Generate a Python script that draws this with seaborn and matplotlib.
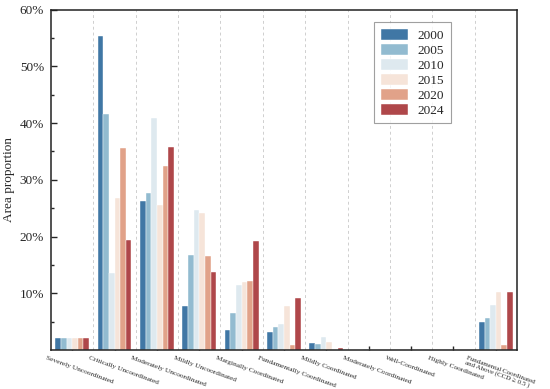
import matplotlib
matplotlib.use("Agg")
import matplotlib.pyplot as plt
import matplotlib.transforms as mtransforms
from matplotlib.ticker import FixedLocator, FuncFormatter
import seaborn as sns
import pandas as pd

categories = [
    "Severely Uncoordinated",
    "Critically Uncoordinated",
    "Moderately Uncoordinated",
    "Mildly Uncoordinated",
    "Marginally Coordinated",
    "Fundamentally Coordinated",
    "Mildly Coordinated",
    "Moderately Coordinated",
    "Well-Coordinated",
    "Highly Coordinated",
    "Fundamental Coordinated\nand Above (CCD \u2265 0.5 )",
]
years = ["2000", "2005", "2010", "2015", "2020", "2024"]

v2000 = [2.2, 55.4, 26.3, 7.8, 3.6, 3.2, 1.2, 0.0, 0.0, 0.0, 5.0]
v2005 = [2.2, 41.6, 27.6, 16.7, 6.5, 4.0, 1.1, 0.0, 0.0, 0.0, 5.7]
v2010 = [2.2, 13.5, 40.9, 24.6, 11.5, 4.6, 2.3, 0.2, 0.0, 0.0, 7.9]
v2015 = [2.2, 26.7, 25.6, 24.2, 12.0, 7.8, 1.4, 0.0, 0.0, 0.0, 10.3]
v2020 = [2.2, 35.6, 32.5, 16.6, 12.2, 0.8, 0.0, 0.0, 0.0, 0.0, 0.8]
v2024 = [2.2, 19.3, 35.8, 13.7, 19.2, 9.1, 0.3, 0.0, 0.0, 0.0, 10.3]

series = [v2000, v2005, v2010, v2015, v2020, v2024]
rows = []
for y, vals in zip(years, series):
    for c, v in zip(categories, vals):
        rows.append({"category": c, "year": y, "value": v})
df = pd.DataFrame(rows)

sns.set_style("ticks")
plt.rcParams["font.family"] = "serif"
plt.rcParams["font.serif"] = ["Liberation Serif", "DejaVu Serif"]

fig = plt.figure(figsize=(5.5, 3.89), dpi=100)
ax = fig.add_axes([51 / 550, 1 - 350 / 389, 466 / 550, 340.5 / 389])

sns.barplot(data=df, x="category", y="value", hue="year", order=categories,
            hue_order=years, palette="RdBu_r", width=0.8, ax=ax,
            edgecolor="white", linewidth=0.3)

ax.set_xlim(-0.5, len(categories) - 0.5)
ax.set_ylim(0, 60)

for b in range(len(categories) - 1):
    ax.axvline(b + 0.5, color="#cfcfcf", linestyle=(0, (3, 3)), linewidth=0.7, zorder=0)

ax.yaxis.set_major_locator(FixedLocator([10, 20, 30, 40, 50, 60]))
ax.yaxis.set_minor_locator(FixedLocator([5, 15, 25, 35, 45, 55]))
ax.yaxis.set_major_formatter(FuncFormatter(lambda v, p: f"{v:.0f}%"))
ax.tick_params(axis="y", which="major", direction="in", length=4, width=1, labelsize=9.5, pad=5)
ax.tick_params(axis="y", which="minor", direction="in", length=2.5, width=1)
ax.tick_params(axis="x", which="major", direction="in", length=3, width=1, pad=4)

ax.set_xlabel("")
ax.set_ylabel("Area proportion", fontsize=9.5, labelpad=3)

ax.set_xticks(range(len(categories)))
ax.set_xticklabels(categories, rotation=-20, ha="left", va="top",
                   rotation_mode="anchor", fontsize=5.3, linespacing=0.95)
labels = ax.get_xticklabels()
for i, lab in enumerate(labels):
    dx = -25
    if i == len(labels) - 1:
        dx = -28
        lab.set_fontsize(5.0)
    offset = mtransforms.ScaledTranslation(dx / 100, 0, fig.dpi_scale_trans)
    lab.set_transform(lab.get_transform() + offset)

for s in ["top", "right", "left", "bottom"]:
    ax.spines[s].set_visible(True)
    ax.spines[s].set_color("#222222")
    ax.spines[s].set_linewidth(1.1)

leg = ax.legend(title=None, loc="upper right", bbox_to_anchor=(0.858, 0.963),
                frameon=True, fancybox=False, fontsize=9.5, handlelength=2.1,
                handleheight=0.9, labelspacing=0.15, borderpad=0.5,
                handletextpad=0.7, edgecolor="#888888", borderaxespad=0)
leg.get_frame().set_linewidth(0.8)

fig.savefig("out.png", dpi=100)
